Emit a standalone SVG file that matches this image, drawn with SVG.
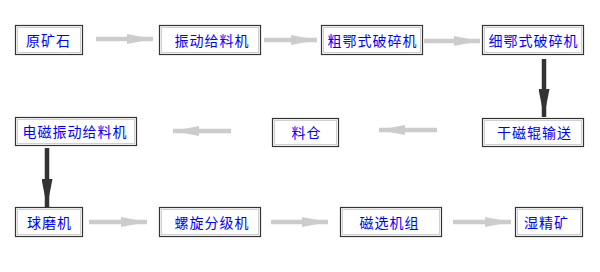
<svg xmlns="http://www.w3.org/2000/svg" width="600" height="272" viewBox="0 0 600 272">
<style>
.o{fill:#fff;stroke:#333;stroke-width:1.2}
.i{fill:none;stroke:#d0d0d0;stroke-width:1}
.t{font-family:"Noto Sans CJK SC","Noto Sans",sans-serif;font-size:14px;letter-spacing:1px;fill:#0000ff;text-anchor:middle;dominant-baseline:central}
.g{stroke:#cccccc;stroke-width:4.5;fill:none}
.d{stroke:#333;stroke-width:4.5;fill:none}
</style>
<defs>
<marker id="mg" markerUnits="userSpaceOnUse" markerWidth="26" markerHeight="10" refX="26" refY="5" orient="auto">
<path d="M0,0 L26,5 L0,10 Z" fill="#cccccc"/>
</marker>
<marker id="md" markerUnits="userSpaceOnUse" markerWidth="28" markerHeight="11" refX="28" refY="5.5" orient="auto">
<path d="M0,0 L28,5.5 L0,11 Z" fill="#333"/>
</marker>
</defs>
<rect width="600" height="272" fill="#fff"/>
<g id="connectors">
<path class="g" d="M96,39 L153,39" marker-end="url(#mg)"/>
<path class="g" d="M264,40 L317,40" marker-end="url(#mg)"/>
<path class="g" d="M424,41 L480,41" marker-end="url(#mg)"/>
<path class="d" d="M544,59 L544,117" marker-end="url(#md)"/>
<path class="g" d="M437,130 L379,130" marker-end="url(#mg)"/>
<path class="g" d="M231,131 L173,131" marker-end="url(#mg)"/>
<path class="d" d="M47,148 L47,207" marker-end="url(#md)"/>
<path class="g" d="M89,222 L147,222" marker-end="url(#mg)"/>
<path class="g" d="M271,222 L328,222" marker-end="url(#mg)"/>
<path class="g" d="M453,222 L511,222" marker-end="url(#mg)"/>
</g>
<g id="n1"><rect class="o" x="15.5" y="25.5" width="67" height="29"/><rect class="i" x="17.5" y="27.5" width="63" height="25"/><text class="t" x="48.5" y="40">原矿石</text></g>
<g id="n2"><rect class="o" x="159.5" y="25.5" width="101" height="29"/><rect class="i" x="161.5" y="27.5" width="97" height="25"/><text class="t" x="212" y="40">振动给料机</text></g>
<g id="n3"><rect class="o" x="321.5" y="25.5" width="101" height="29"/><rect class="i" x="323.5" y="27.5" width="97" height="25"/><text class="t" x="372.5" y="40">粗鄂式破碎机</text></g>
<g id="n4"><rect class="o" x="482.5" y="25.5" width="101" height="29"/><rect class="i" x="484.5" y="27.5" width="97" height="25"/><text class="t" x="533.5" y="40">细鄂式破碎机</text></g>
<g id="n5"><rect class="o" x="482.5" y="118.5" width="101" height="28"/><rect class="i" x="484.5" y="120.5" width="97" height="24"/><text class="t" x="534.5" y="132">干磁辊输送</text></g>
<g id="n6"><rect class="o" x="272.5" y="118.5" width="66" height="28"/><rect class="i" x="274.5" y="120.5" width="62" height="24"/><text class="t" x="306.5" y="132">料仓</text></g>
<g id="n7"><rect class="o" x="15.5" y="117.5" width="121" height="28"/><rect class="i" x="17.5" y="119.5" width="117" height="24"/><text class="t" x="75" y="131">电磁振动给料机</text></g>
<g id="n8"><rect class="o" x="15.5" y="207.5" width="67" height="29"/><rect class="i" x="17.5" y="209.5" width="63" height="25"/><text class="t" x="49.5" y="222">球磨机</text></g>
<g id="n9"><rect class="o" x="159.5" y="207.5" width="101" height="29"/><rect class="i" x="161.5" y="209.5" width="97" height="25"/><text class="t" x="212" y="222">螺旋分级机</text></g>
<g id="n10"><rect class="o" x="340.5" y="207.5" width="101" height="29"/><rect class="i" x="342.5" y="209.5" width="97" height="25"/><text class="t" x="389.5" y="222">磁选机组</text></g>
<g id="n11"><rect class="o" x="515.5" y="207.5" width="67" height="29"/><rect class="i" x="517.5" y="209.5" width="63" height="25"/><text class="t" x="546.5" y="222">湿精矿</text></g>
</svg>
